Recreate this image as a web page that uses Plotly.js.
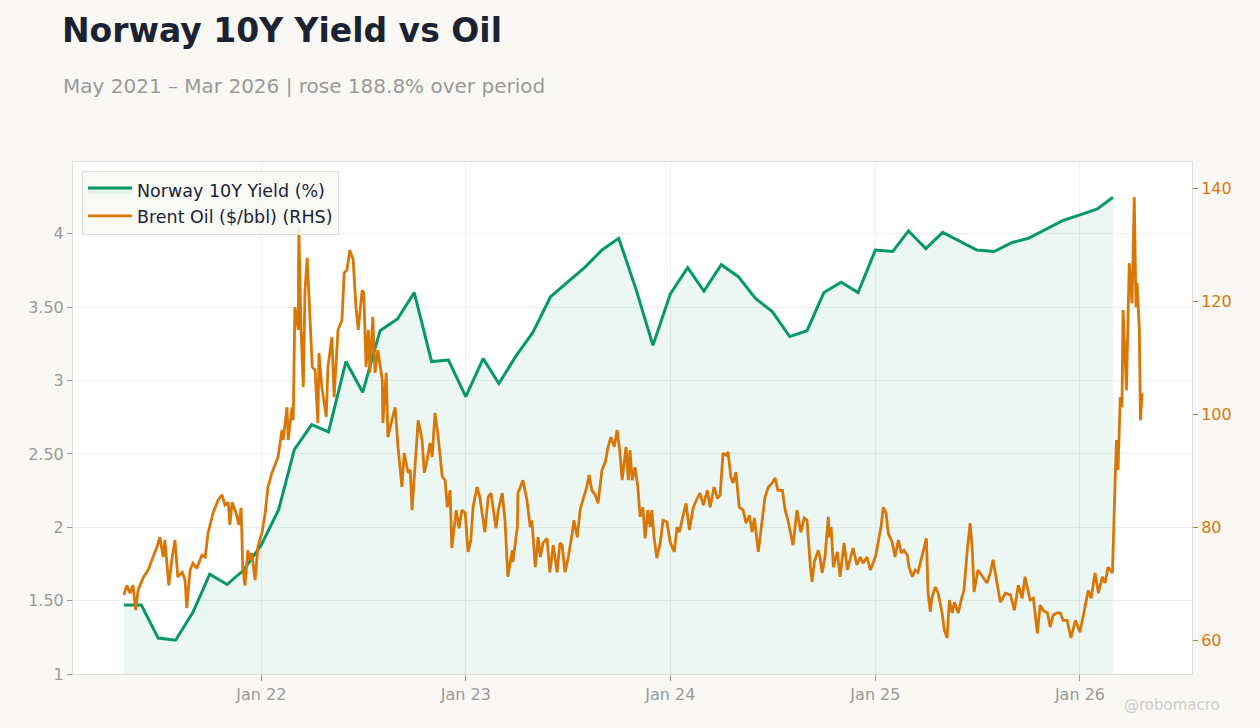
<!DOCTYPE html>
<html>
<head>
<meta charset="utf-8">
<script src="https://cdn.plot.ly/plotly-3.0.1.min.js"></script>
<style>
  html, body { margin: 0; padding: 0; background: #F9F8F5; }
  #chart { width: 1260px; height: 728px; }
</style>
</head>
<body>
<div id="chart"></div>
<script>
// ---- Norway 10Y yield, monthly (%) ----
const yieldMonths = [
  '2021-05-01','2021-06-01','2021-07-01','2021-08-01','2021-09-01','2021-10-01','2021-11-01','2021-12-01',
  '2022-01-01','2022-02-01','2022-03-01','2022-04-01','2022-05-01','2022-06-01','2022-07-01','2022-08-01','2022-09-01','2022-10-01','2022-11-01','2022-12-01',
  '2023-01-01','2023-02-01','2023-03-01','2023-04-01','2023-05-01','2023-06-01','2023-07-01','2023-08-01','2023-09-01','2023-10-01','2023-11-01','2023-12-01',
  '2024-01-01','2024-02-01','2024-03-01','2024-04-01','2024-05-01','2024-06-01','2024-07-01','2024-08-01','2024-09-01','2024-10-01','2024-11-01','2024-12-01',
  '2025-01-01','2025-02-01','2025-03-01','2025-04-01','2025-05-01','2025-06-01','2025-07-01','2025-08-01','2025-09-01','2025-10-01','2025-11-01','2025-12-01',
  '2026-01-01','2026-02-01','2026-03-01'
];
const yieldValues = [
  1.47,1.47,1.245,1.23,1.42,1.68,1.61,1.71,
  1.88,2.12,2.53,2.70,2.65,3.13,2.92,3.34,3.42,3.60,3.13,3.14,
  2.89,3.15,2.98,3.17,3.33,3.57,3.67,3.77,3.89,3.97,3.62,3.24,
  3.59,3.77,3.61,3.79,3.71,3.56,3.47,3.30,3.34,3.60,3.67,3.60,
  3.89,3.88,4.02,3.90,4.01,3.95,3.89,3.88,3.94,3.97,4.03,4.09,
  4.13,4.17,4.25
];

// ---- Brent oil ($/bbl): observation day (days after 2021-05-01) and price ----
const oilStart = '2021-05-01';
const oilDays = [
  0,5,11,16,21,25,34,43,50,59,
  64,70,73,80,86,91,96,104,109,112,
  118,123,130,139,145,150,159,168,175,180,
  186,189,193,200,205,209,212,216,221,225,
  228,234,239,246,252,257,264,270,275,282,
  284,291,293,300,302,305,311,312,316,320,
  323,327,332,336,341,346,348,353,361,364,
  371,375,382,389,393,398,403,409,414,418,
  425,428,432,436,439,444,448,453,461,462,
  468,471,478,484,489,496,500,507,511,514,
  519,525,532,536,541,546,550,555,560,564,
  568,573,577,582,585,593,598,603,609,614,
  619,623,630,635,644,650,655,660,664,668,
  675,680,685,693,694,702,703,712,719,725,
  728,734,739,743,748,755,760,766,773,778,
  782,787,793,800,803,809,814,819,826,830,
  835,841,846,853,859,864,869,875,880,885,
  889,896,900,903,907,912,917,921,926,930,
  935,939,942,946,951,957,962,969,975,982,
  987,991,996,1003,1009,1016,1023,1028,1034,1041,
  1046,1053,1059,1064,1069,1075,1078,1083,1087,1092,
  1098,1105,1110,1116,1121,1125,1132,1139,1144,1150,
  1157,1162,1167,1175,1180,1185,1189,1194,1201,1208,
  1214,1219,1225,1228,1232,1239,1242,1246,1251,1257,
  1258,1262,1266,1273,1278,1285,1291,1296,1301,1308,
  1314,1319,1326,1332,1341,1346,1351,1355,1360,1364,
  1371,1376,1382,1387,1392,1398,1401,1407,1412,1417,
  1424,1432,1435,1439,1442,1448,1453,1460,1464,1469,
  1473,1478,1482,1489,1494,1499,1505,1510,1514,1517,
  1524,1533,1540,1546,1551,1558,1564,1573,1582,1589,
  1596,1603,1608,1617,1623,1630,1635,1640,1648,1653,
  1658,1665,1671,1676,1683,1690,1698,1706,1714,1721,
  1726,1733,1739,1746,1751,1756,1764,1767,1771,1774,
  1778,1781,1783,1789,1792,1794,1799,1803,1806,1808,
  1812,1814,1817
];
const oilPrices = [
  68.0,69.7,68.3,69.7,65.3,68.8,71.0,72.4,74.2,76.5,
  78.2,74.7,77.7,69.7,74.7,77.7,71.2,72.0,70.6,65.7,
  72.4,73.6,72.7,75.0,74.7,78.9,82.5,84.8,85.7,83.9,
  84.4,80.4,84.4,82.5,80.4,83.4,72.7,69.7,75.9,74.2,
  75.4,70.6,76.5,78.9,82.5,87.1,89.6,91.3,92.4,97.2,
  95.4,101.2,95.4,101.2,98.9,118.9,114.9,133.1,114.9,104.8,
  121.9,127.6,116.1,108.3,107.8,98.4,110.8,104.8,99.5,108.3,
  113.6,103.0,114.9,116.6,125.0,125.5,129.0,127.3,118.9,114.9,
  121.9,121.4,108.3,114.9,107.3,117.2,107.3,111.3,106.0,98.4,
  107.3,95.9,98.9,101.2,94.2,87.1,93.1,89.6,90.1,83.0,
  90.1,98.9,95.4,89.6,91.9,94.9,92.4,100.2,96.6,93.1,
  88.9,88.3,83.5,86.5,76.3,83.0,79.8,83.0,82.5,75.6,
  77.7,83.5,87.1,85.3,79.1,85.3,86.0,82.5,79.8,83.0,
  86.0,81.2,71.2,75.9,73.8,80.0,86.0,88.3,84.8,80.0,
  81.2,72.9,78.2,74.7,77.2,78.0,72.0,76.8,72.0,77.2,
  76.8,72.0,74.7,78.9,81.2,78.2,83.0,84.8,87.1,89.2,
  86.5,85.7,84.2,90.1,91.5,94.2,95.9,94.2,97.2,93.3,
  88.3,94.2,88.3,93.6,88.3,90.6,87.1,81.8,83.5,78.0,
  83.0,80.0,83.0,78.2,74.5,77.2,81.2,80.9,77.2,75.6,
  80.0,79.1,81.2,84.2,79.5,83.5,85.1,86.0,83.9,86.5,
  83.5,87.1,85.1,85.7,93.1,92.7,93.3,88.9,87.8,89.7,
  83.5,83.0,80.7,82.1,79.1,81.6,75.6,80.7,85.3,87.1,
  87.8,88.7,86.5,86.5,83.0,81.2,79.1,76.8,83.0,79.1,
  81.6,81.2,72.9,70.3,73.8,75.9,74.7,71.9,74.7,81.8,
  78.2,80.0,72.9,75.6,71.2,77.2,72.4,74.2,76.3,73.3,
  74.7,73.6,74.7,72.4,74.7,77.3,80.0,83.5,82.5,78.9,
  77.3,74.7,77.7,75.4,75.9,75.0,72.9,71.2,72.4,72.0,
  74.7,78.0,68.3,65.0,67.6,69.4,68.3,64.8,61.8,60.4,
  67.1,64.8,66.7,64.8,67.1,68.8,75.9,80.7,75.9,68.5,
  72.4,71.2,70.1,71.9,74.2,70.1,66.7,68.3,68.0,65.3,
  69.7,67.4,71.2,67.1,67.4,61.2,66.2,65.3,64.8,62.3,
  64.4,64.8,64.8,63.5,63.5,60.4,63.5,61.4,65.3,68.8,
  67.4,71.9,68.3,71.2,70.1,72.9,71.9,81.8,95.4,90.1,
  103.0,101.2,118.4,104.2,121.4,126.7,119.6,138.4,118.9,123.2,
  114.9,98.9,103.7
];

// ---- axis ticks ----
const yTickVals = [1, 1.5, 2, 2.5, 3, 3.5, 4];
const yTickText = ['1', '1.50', '2', '2.50', '3', '3.50', '4'];
const y2TickVals = [60, 80, 100, 120, 140];

// ---- text ----
const titleText = 'Norway 10Y Yield vs Oil';
const subtitleText = 'May 2021 – Mar 2026 | rose 188.8% over period';
const creditText = '@robomacro';

function dayToDate(start, d) {
  const t = new Date(start + 'T00:00:00Z');
  t.setUTCDate(t.getUTCDate() + d);
  return t.toISOString().slice(0, 10);
}
const oilDates = oilDays.map(d => dayToDate(oilStart, d));

const GREEN = '#079868';
const ORANGE = '#D97706';
const FONT = 'DejaVu Sans, sans-serif';

const traces = [
  {
    x: yieldMonths, y: yieldValues, name: 'Norway 10Y Yield (%)',
    type: 'scatter', mode: 'lines',
    line: { color: GREEN, width: 3 },
    fill: 'tozeroy', fillcolor: 'rgba(7,152,104,0.08)',
    yaxis: 'y'
  },
  {
    x: oilDates, y: oilPrices, name: 'Brent Oil ($/bbl) (RHS)',
    type: 'scatter', mode: 'lines',
    line: { color: ORANGE, width: 2.8 },
    yaxis: 'y2'
  }
];

const layout = {
  width: 1260, height: 728,
  paper_bgcolor: '#F9F8F5',
  plot_bgcolor: '#FFFFFF',
  margin: { l: 73, r: 68, t: 162, b: 54 },
  font: { family: FONT, color: '#999999', size: 16 },
  title: {
    text: '<b>' + titleText + '</b>',
    font: { family: FONT, size: 33, color: '#1B2333' },
    x: 62 / 1260, xanchor: 'left', xref: 'container',
    y: 1 - 30 / 728, yanchor: 'middle', yref: 'container'
  },
  showlegend: true,
  legend: {
    x: 0.008, y: 0.982, xanchor: 'left', yanchor: 'top',
    bgcolor: 'rgba(249,248,245,0.92)', bordercolor: '#DDDDDD', borderwidth: 1,
    itemwidth: 44,
    font: { family: FONT, size: 17.5, color: '#1B2333' }
  },
  xaxis: {
    type: 'date',
    range: ['2021-01-30', '2026-07-20'],
    tick0: '2022-01-01', dtick: 'M12', tickformat: '%b %y',
    showgrid: true, gridcolor: '#EEEEEE', gridwidth: 1,
    showline: true, linecolor: '#DDDDDD', linewidth: 1, mirror: true,
    ticks: 'outside', ticklen: 6, tickcolor: '#999999',
    tickfont: { family: FONT, size: 16, color: '#999999' },
    zeroline: false
  },
  yaxis: {
    range: [1, 4.49],
    tickvals: yTickVals, ticktext: yTickText,
    showgrid: true, gridcolor: '#EEEEEE', gridwidth: 1,
    showline: true, linecolor: '#DDDDDD', linewidth: 1,
    ticks: 'outside', ticklen: 5, tickcolor: '#999999',
    tickfont: { family: FONT, size: 16, color: '#999999' },
    zeroline: false
  },
  yaxis2: {
    overlaying: 'y', side: 'right',
    range: [54, 144.6],
    tickvals: y2TickVals,
    showgrid: false,
    showline: true, linecolor: '#DDDDDD', linewidth: 1,
    ticks: 'outside', ticklen: 5, tickcolor: ORANGE,
    tickfont: { family: FONT, size: 16, color: ORANGE },
    zeroline: false
  },
  annotations: [
    {
      text: subtitleText, xref: 'paper', yref: 'paper',
      x: (61 - 73) / 1119, y: (674 - 86) / 512, xanchor: 'left', yanchor: 'middle',
      showarrow: false, font: { family: FONT, size: 20, color: '#999999' }
    },
    {
      text: creditText, xref: 'paper', yref: 'paper',
      x: (1222 - 73) / 1119, y: (674 - 705) / 512, xanchor: 'right', yanchor: 'middle',
      showarrow: false, font: { family: FONT, size: 15, color: '#CCCCCC' }
    }
  ]
};

Plotly.newPlot('chart', traces, layout, { displayModeBar: false, staticPlot: true });
</script>
</body>
</html>
